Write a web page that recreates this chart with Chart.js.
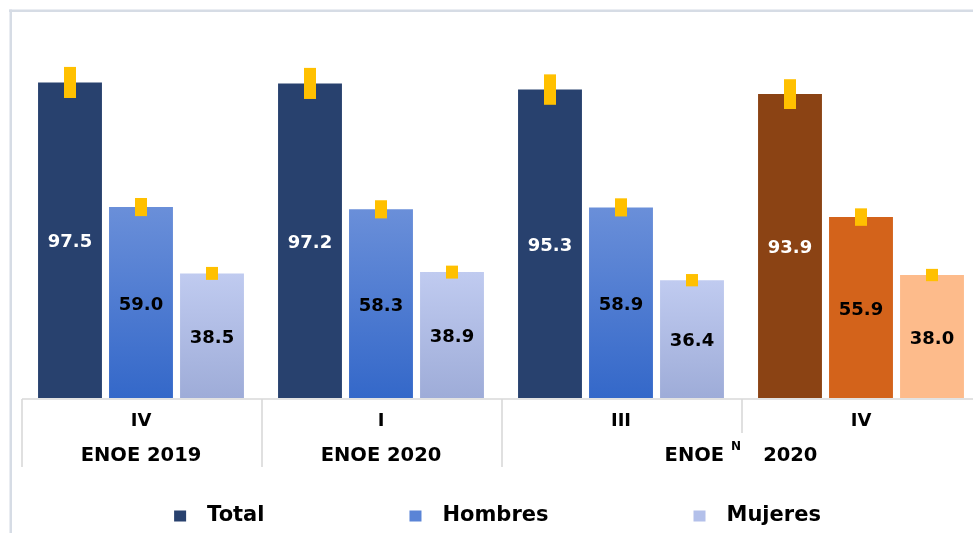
<!DOCTYPE html>
<html><head><meta charset="utf-8">
<script src="https://cdn.jsdelivr.net/npm/chart.js@4"></script>
<style>
html,body{margin:0;padding:0;background:#fff;overflow:hidden;}
#wrap{position:relative;width:973px;height:533px;overflow:hidden;background:#fff;}
canvas{position:absolute;left:0;top:0;}
</style></head><body>
<div id="wrap"><canvas id="c" width="990" height="533"></canvas></div>
<script>
// ---- data ----
const categories = ['IV', 'I', 'III', 'IV'];
const groupNames = ['ENOE', 'ENOE', 'ENOE'];
const groupMarks = ['', '', 'N'];
const groupYears = ['2019', '2020', '2020'];
const groupSpans = [1, 1, 2];
const seriesNames = ['Total', 'Hombres', 'Mujeres'];
const totalValues = [97.5, 97.2, 95.3, 93.9];
const hombresValues = [59.0, 58.3, 58.9, 55.9];
const mujeresValues = [38.5, 38.9, 36.4, 38.0];
const totalErrors = [4.8, 4.8, 4.7, 4.6];
const hombresErrors = [2.8, 2.8, 2.8, 2.7];
const mujeresErrors = [2.0, 2.0, 1.9, 1.9];

// ---- styles ----
const FONT = '"DejaVu Sans", "Liberation Sans", Arial, sans-serif';
const HIGHLIGHT_INDEX = 3;
const STYLES = [
  {top: '#28416e', bottom: '#28416e', alt: '#8b4314', label: '#ffffff', legend: '#28416e'},
  {top: '#6a8fd9', bottom: '#3468c9', alt: '#d3631b', label: '#000000', legend: '#5a84d6'},
  {top: '#c0cbf0', bottom: '#9eacd8', alt: '#fdbb8b', label: '#000000', legend: '#b3c0ea'}
];
const ERR_COLOR = '#ffc000';
const LINE_COLOR = '#d9d9d9';

function barFill(style) {
  return function (ctx) {
    if (ctx.dataIndex === HIGHLIGHT_INDEX) return style.alt;
    const chart = ctx.chart;
    if (!chart.chartArea || ctx.type !== 'data') return style.bottom;
    const ys = chart.scales.y;
    const y1 = ys.getPixelForValue(ctx.raw), y0 = ys.getPixelForValue(0);
    const g = chart.ctx.createLinearGradient(0, y1, 0, y0);
    g.addColorStop(0, style.top);
    g.addColorStop(1, style.bottom);
    return g;
  };
}

const seriesValues = [totalValues, hombresValues, mujeresValues];
const seriesErrors = [totalErrors, hombresErrors, mujeresErrors];

const decorPlugin = {
  id: 'decor',
  beforeDraw(chart) {
    const c = chart.ctx;
    c.save();
    c.fillStyle = '#ffffff';
    c.fillRect(0, 0, chart.width, chart.height);
    c.fillStyle = '#d6dce5';
    c.fillRect(9, 9.5, chart.width, 2.5);
    c.fillRect(9.5, 9.5, 2.5, chart.height);
    c.restore();
  },
  afterDatasetsDraw(chart) {
    const c = chart.ctx, ys = chart.scales.y;
    c.save();
    chart.data.datasets.forEach((ds, di) => {
      const meta = chart.getDatasetMeta(di);
      meta.data.forEach((bar, i) => {
        const v = ds.data[i], e = seriesErrors[di][i];
        const yt = ys.getPixelForValue(v + e), yb = ys.getPixelForValue(v - e);
        c.fillStyle = ERR_COLOR;
        c.fillRect(bar.x - 6, yt, 12, yb - yt);
        c.font = 'bold 18px ' + FONT;
        c.fillStyle = STYLES[di].label;
        c.textAlign = 'center';
        c.textBaseline = 'middle';
        c.fillText(v.toFixed(1), bar.x, (bar.y + bar.base) / 2 + 2.5);
      });
    });
    c.restore();
  },
  afterDraw(chart) {
    const c = chart.ctx, area = chart.chartArea, ys = chart.scales.y;
    const n = categories.length;
    const w = (area.right - area.left) / n;
    const y0 = ys.getPixelForValue(0) + 1;
    c.save();
    c.strokeStyle = LINE_COLOR;
    c.lineWidth = 1.6;
    c.beginPath();
    c.moveTo(area.left + 1, y0);
    c.lineTo(chart.width, y0);
    c.stroke();
    // group boundaries
    const bounds = [0];
    groupSpans.forEach(s => bounds.push(bounds[bounds.length - 1] + s));
    for (let k = 0; k <= n; k++) {
      const x = area.left + k * w + 1;
      const long = bounds.indexOf(k) >= 0;
      c.beginPath();
      c.moveTo(x, y0);
      c.lineTo(x, long ? 467 : 433);
      c.stroke();
    }
    // second-level labels
    c.fillStyle = '#000000';
    c.textBaseline = 'middle';
    c.textAlign = 'left';
    const mainFont = 'bold 19.5px ' + FONT, supFont = 'bold 12px ' + FONT;
    groupNames.forEach((name, g) => {
      const cx = area.left + (bounds[g] + groupSpans[g] / 2) * w;
      const yy = 456;
      c.font = mainFont;
      if (!groupMarks[g]) {
        const t = name + ' ' + groupYears[g];
        const tw = c.measureText(t).width;
        c.fillText(t, cx - tw / 2, yy);
      } else {
        const nw = c.measureText(name).width, yw = c.measureText(groupYears[g]).width;
        c.font = supFont;
        const sw = c.measureText(groupMarks[g]).width;
        const total = nw + 7 + sw + 22 + yw;
        let x = cx - total / 2;
        c.font = mainFont;
        c.fillText(name, x, yy);
        x += nw + 7;
        c.font = supFont;
        c.fillText(groupMarks[g], x, yy - 9);
        x += sw + 22;
        c.font = mainFont;
        c.fillText(groupYears[g], x, yy);
      }
    });
    // legend
    c.font = 'bold 21px ' + FONT;
    const box = 12, gapText = 21, gapItem = 145;
    const widths = chart.data.datasets.map(ds => box + gapText + c.measureText(ds.label).width);
    const totalW = widths.reduce((a, b) => a + b, 0) + gapItem * (widths.length - 1);
    let lx = 497.5 - totalW / 2;
    const ly = 516;
    chart.data.datasets.forEach((ds, di) => {
      c.fillStyle = STYLES[di].legend;
      c.fillRect(lx, ly - 5.5, box, 11);
      c.fillStyle = '#000000';
      c.fillText(ds.label, lx + box + gapText, ly);
      lx += widths[di] + gapItem;
    });
    c.restore();
  }
};

new Chart(document.getElementById('c'), {
  type: 'bar',
  data: {
    labels: categories,
    datasets: seriesNames.map((name, di) => ({
      label: name,
      data: seriesValues[di],
      backgroundColor: barFill(STYLES[di]),
      borderWidth: 0,
      categoryPercentage: 0.8875,
      barPercentage: 0.9
    }))
  },
  options: {
    responsive: false,
    animation: false,
    events: [],
    layout: {padding: {left: 21, right: 9, top: 42, bottom: 0}},
    plugins: {legend: {display: false}, tooltip: {enabled: false}},
    scales: {
      x: {
        grid: {display: false, drawTicks: false},
        border: {display: false},
        ticks: {font: {family: FONT, weight: 'bold', size: 18}, color: '#000000', padding: 13, maxRotation: 0, autoSkip: false},
        afterFit(s) { s.height = 135; }
      },
      y: {display: false, min: 0, max: 110}
    }
  },
  plugins: [decorPlugin]
});
</script>
</body></html>
